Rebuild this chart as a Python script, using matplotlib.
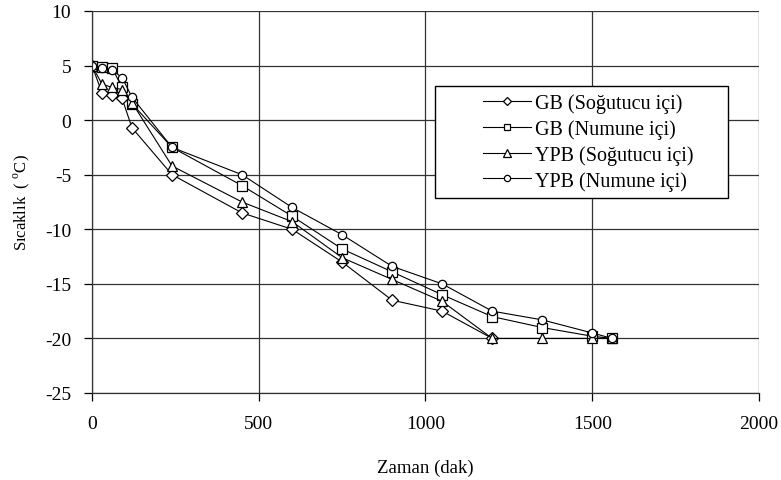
import matplotlib
matplotlib.use("Agg")
import matplotlib.pyplot as plt
from matplotlib.patches import Rectangle

plt.rcParams['font.family'] = ['Liberation Serif', 'DejaVu Serif']
plt.rcParams['mathtext.fontset'] = 'custom'
plt.rcParams['mathtext.rm'] = 'Liberation Serif'
plt.rcParams['axes.unicode_minus'] = False

# Data
t_gb_sog = [0, 30, 60, 90, 120, 240, 450, 600, 750, 900, 1050, 1200]
gb_sog = [5, 2.5, 2.3, 2.0, -0.7, -5.0, -8.5, -10.0, -13.0, -16.5, -17.5, -20.0]

t_gb_num = [0, 30, 60, 90, 120, 240, 450, 600, 750, 900, 1050, 1200, 1350, 1500, 1560]
gb_num = [5, 4.9, 4.8, 3.0, 1.5, -2.5, -6.0, -8.8, -11.8, -13.9, -16.0, -18.0, -19.0, -19.8, -20.0]

t_ypb_sog = [0, 30, 60, 90, 120, 240, 450, 600, 750, 900, 1050, 1200, 1350, 1500, 1560]
ypb_sog = [5, 3.3, 3.0, 2.8, 1.6, -4.2, -7.5, -9.3, -12.6, -14.6, -16.6, -20.0, -20.0, -20.0, -20.0]

t_ypb_num = [0, 30, 60, 90, 120, 240, 450, 600, 750, 900, 1050, 1200, 1350, 1500, 1560]
ypb_num = [5, 4.8, 4.6, 3.9, 2.1, -2.5, -5.0, -8.0, -10.5, -13.4, -15.0, -17.5, -18.3, -19.5, -20.0]

labels = ["GB (Soğutucu içi)", "GB (Numune içi)", "YPB (Soğutucu içi)", "YPB (Numune içi)"]
x_ticks = [0, 500, 1000, 1500, 2000]
y_ticks = [10, 5, 0, -5, -10, -15, -20, -25]

W, H = 781, 481
L, R, T, B = 92, 759, 12, 394
fig = plt.figure(figsize=(W/100, H/100), dpi=100)
ax = fig.add_axes([L/W, 1 - B/H, (R - L)/W, (B - T)/H])

common = dict(color='black', lw=0.8, markerfacecolor='white', markeredgecolor='black',
              markeredgewidth=0.9)
ax.plot(t_gb_sog, gb_sog, marker='D', ms=6, label=labels[0], **common)
ax.plot(t_gb_num, gb_num, marker='s', ms=6.5, label=labels[1], **common)
ax.plot(t_ypb_sog, ypb_sog, marker='^', ms=7.5, label=labels[2], **common)
ax.plot(t_ypb_num, ypb_num, marker='o', ms=6, label=labels[3], **common)

ax.set_xlim(0, 2000)
ax.set_ylim(-25, 10)
ax.set_xticks(x_ticks)
ax.set_yticks(y_ticks)
ax.grid(True, color='#333333', lw=0.9)
ax.set_axisbelow(True)
for s in ['top', 'right']:
    ax.spines[s].set_visible(False)
for s in ['left', 'bottom']:
    ax.spines[s].set_color('#333333')
    ax.spines[s].set_linewidth(0.9)
ax.tick_params(direction='out', length=6, width=0.9, labelsize=14)
ax.tick_params(axis='x', pad=10)
ax.tick_params(axis='y', pad=9)

ax.set_xlabel("Zaman (dak)", fontsize=13.5, labelpad=19)
ax.set_ylabel(r"Sıcaklık  ( $^{\rm o}$C)", fontsize=12, labelpad=9)

# legend frame
lx0, ly0, lx1, ly1 = 435, 87, 728, 199
def ax_x(px):
    return (px - L) / (R - L)
def ax_y(py):
    return (B - py) / (B - T)
rect = Rectangle((ax_x(lx0), ax_y(ly1)), ax_x(lx1) - ax_x(lx0), ax_y(ly0) - ax_y(ly1),
                 transform=ax.transAxes, facecolor='white', edgecolor='black',
                 lw=1.0, zorder=5)
ax.add_patch(rect)
leg = ax.legend(loc='center', bbox_to_anchor=((ax_x(lx0) + ax_x(lx1))/2 + 0.01,
                                              (ax_y(ly0) + ax_y(ly1))/2),
                fontsize=14.5, frameon=False, handlelength=2.4, markerscale=0.75,
                borderpad=0.3, labelspacing=0.3, handletextpad=0.2)
leg.set_zorder(6)

fig.savefig("out.png", dpi=100)
